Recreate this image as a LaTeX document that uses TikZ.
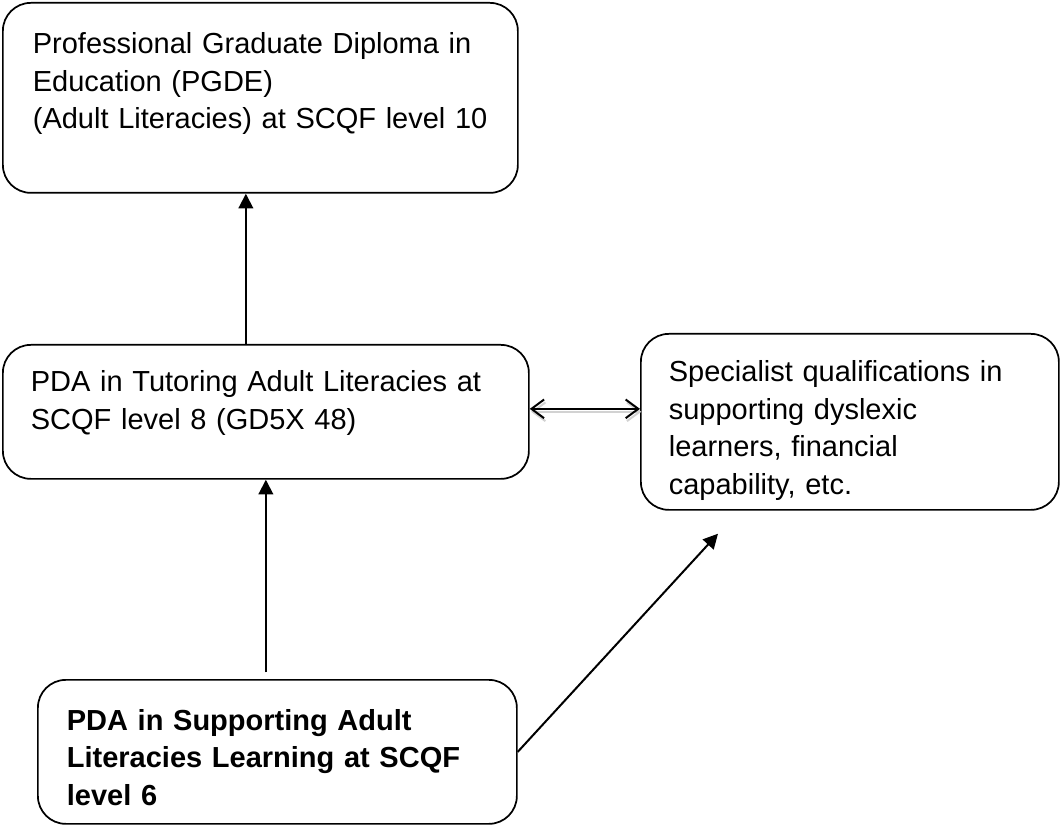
\documentclass[tikz,border=0pt]{standalone}
\usepackage{fontspec}
\setmainfont{Liberation Sans}
\usetikzlibrary{arrows.meta, positioning, calc}
\newdimen\pxu \pxu=0.75pt

\begin{document}
\begin{tikzpicture}[x=0.75pt, y=-0.75pt, >=Stealth,
    box/.style={draw, line width=1.3pt, rounded corners=21pt, anchor=north west,
        align=left, inner ysep=0pt, inner xsep=29\pxu,
        font=\fontsize{21.75pt}{28.1pt}\selectfont},
    arr/.style={-{Triangle[length=11pt, width=11pt]}, line width=1.5pt},
    barbs/.style={{Straight Barb[length=9.5pt, width=14pt]}-{Straight Barb[length=9.5pt, width=14pt]}, line width=1.5pt}]
    \useasboundingbox (0,0) rectangle (1061,827);
    % qualification boxes
    \node[box, text width=455\pxu, inner xsep=30\pxu, text height=51\pxu, text depth=139\pxu] (pgde) at (2,2)
        {Professional Graduate Diploma in\\Education (PGDE)\\(Adult Literacies) at SCQF level 10};
    \node[box, text width=470\pxu, inner xsep=28\pxu, text height=47\pxu, text depth=87\pxu] (tutor) at (2,344)
        {PDA in Tutoring Adult Literacies at\\SCQF level 8 (GD5X 48)};
    \node[box, text width=362\pxu, inner xsep=28\pxu, text height=48\pxu, text depth=128\pxu] (spec) at (640,333)
        {Specialist qualifications in\\supporting dyslexic\\learners, financial\\capability, etc.};
    \node[box, text width=421\pxu, text height=50.5\pxu, text depth=93.5\pxu, font=\fontsize{21.75pt}{28.1pt}\selectfont\bfseries] (support) at (37,679)
        {PDA in Supporting Adult\\Literacies Learning at SCQF\\level 6};
    % progression arrows
    \coordinate (diagtip) at ([xshift=58.5pt, yshift=-17.25pt]spec.south west);
    \draw[arr] ([xshift=-15pt]tutor.north) -- ([xshift=-15pt]tutor.north |- pgde.south);
    \draw[arr, shorten <=5pt] (tutor.south |- support.north) -- (tutor.south);
    \draw[arr] (support.east) -- (diagtip);
    \draw[barbs, gray!35, transform canvas={shift={(1pt,-2.2pt)}}] ([yshift=2.25pt]tutor.east) -- ([yshift=2.25pt]tutor.east -| spec.west);
    \draw[barbs] ([yshift=2.25pt]tutor.east) -- ([yshift=2.25pt]tutor.east -| spec.west);
\end{tikzpicture}
\end{document}
